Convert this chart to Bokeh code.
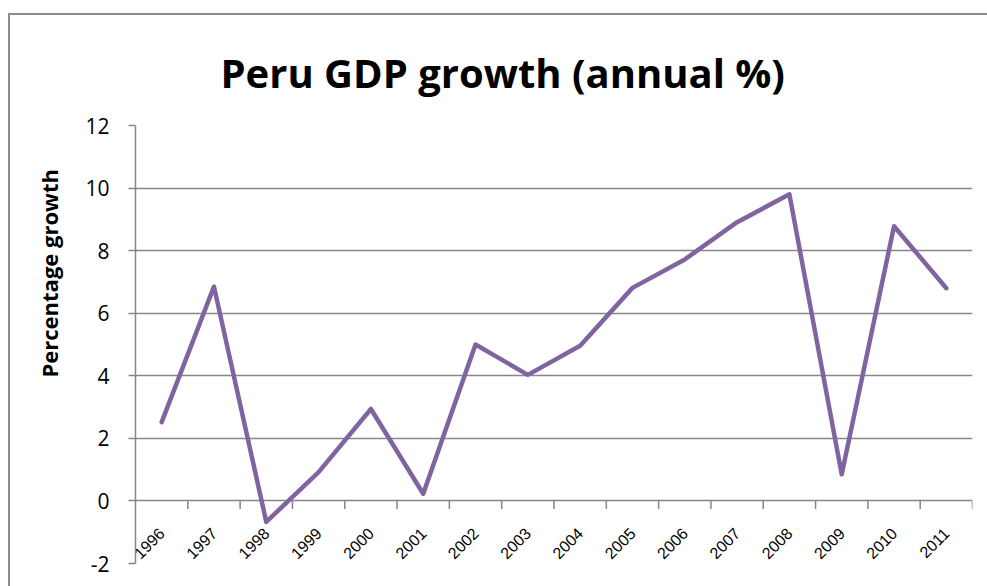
from math import pi
from bokeh.plotting import figure
from bokeh.models import Range1d, FixedTicker, Title
from bokeh.embed import file_html
from bokeh.resources import INLINE

years = ["1996", "1997", "1998", "1999", "2000", "2001", "2002", "2003",
         "2004", "2005", "2006", "2007", "2008", "2009", "2010", "2011"]
growth = [2.52, 6.85, -0.67, 0.92, 2.94, 0.23, 5.0, 4.03,
          4.96, 6.81, 7.72, 8.91, 9.8, 0.85, 8.78, 6.8]
y_ticks = [-2, 0, 2, 4, 6, 8, 10, 12]

GRAY = "#868686"
idx = list(range(len(years)))
bounds = [i + 0.5 for i in idx]

p = figure(width=977, height=571, output_backend="svg", toolbar_location=None,
           x_range=Range1d(-0.5, len(years) - 0.5), y_range=Range1d(-2, 12),
           frame_width=837, frame_height=438,
           min_border_left=125, min_border_top=110, min_border_right=15, min_border_bottom=23,
           styles={"margin-left": "8px", "margin-top": "13px",
                   "border-left": "2px solid #8c8c8c", "border-top": "2px solid #8c8c8c"})
p.outline_line_color = None
p.background_fill_color = "white"
p.border_fill_color = "white"

p.title.text = "Peru GDP growth (annual %)"
p.title.align = "left"
p.title.offset = 85
p.title.text_font = "Open Sans"
p.title.text_font_style = "bold"
p.title.text_font_size = "40px"
p.title.text_color = "black"
p.title.standoff = 52

p.add_layout(Title(text="Percentage growth", align="left", offset=186,
                   text_font="Open Sans", text_font_style="bold", text_font_size="22px",
                   text_color="black", standoff=38), "left")

# y axis
p.yaxis.ticker = FixedTicker(ticks=y_ticks)
p.yaxis.major_label_overrides = {t: str(t) for t in y_ticks}
p.yaxis.axis_line_color = GRAY
p.yaxis.axis_line_width = 1.5
p.yaxis.major_tick_line_color = GRAY
p.yaxis.major_tick_line_width = 1.5
p.yaxis.major_tick_out = 7
p.yaxis.major_tick_in = 0
p.yaxis.minor_tick_line_color = None
p.yaxis.major_label_standoff = 19
p.yaxis.major_label_text_font = "Open Sans"
p.yaxis.major_label_text_font_size = "21px"
p.yaxis.major_label_text_color = "black"

# x axis (labels sit between the 0 line and the -2 line)
p.xaxis.ticker = FixedTicker(ticks=idx)
p.xaxis.major_label_overrides = {i: y for i, y in zip(idx, years)}
p.xaxis.major_label_orientation = pi / 4
p.xaxis.axis_line_color = None
p.xaxis.major_tick_line_color = None
p.xaxis.minor_tick_line_color = None
p.xaxis.major_tick_out = 0
p.xaxis.major_label_standoff = -33
p.xaxis.major_label_text_font = "Liberation Sans"
p.xaxis.major_label_text_font_size = "16px"
p.xaxis.major_label_text_color = "black"

p.xgrid.grid_line_color = None
p.ygrid.ticker = FixedTicker(ticks=y_ticks)
p.ygrid.grid_line_color = GRAY
p.ygrid.grid_line_width = 1.5

# category axis at zero with tick marks between categories
p.ray(x=bounds, y=[0] * len(bounds), length=8, length_units="screen",
      angle=-pi / 2, line_color=GRAY, line_width=1.5)

p.line(idx, growth, line_color="#8064A2", line_width=4.5,
       line_join="round", line_cap="round")

open("out.html", "w").write(file_html(p, INLINE))
